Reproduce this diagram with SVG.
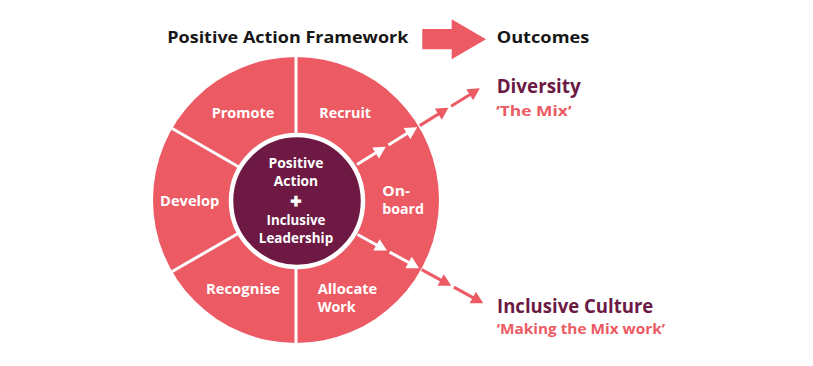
<svg xmlns="http://www.w3.org/2000/svg" width="813" height="366" viewBox="0 0 813 366">
  <style>
    .lbl { font-family: "Open Sans", Lato, "Liberation Sans", sans-serif; font-weight: 700; font-size: 14px; fill: #ffffff; }
    .ttl { font-family: "Open Sans", Lato, "Liberation Sans", sans-serif; font-weight: 700; font-size: 16.5px; fill: #161616; }
    .out { font-family: "Open Sans", Lato, "Liberation Sans", sans-serif; font-weight: 700; font-size: 20px; fill: #6B1A45; }
    .sub { font-family: "Open Sans", Lato, "Liberation Sans", sans-serif; font-weight: 700; font-size: 15px; fill: #EC5B63; }
    .div { stroke: #ffffff; stroke-width: 3; }
    .aw { stroke: #ffffff; stroke-width: 3; fill: none; marker-end: url(#hw); }
    .ap { stroke: #EC5B63; stroke-width: 3; fill: none; marker-end: url(#hp); }
  </style>
  <defs>
    <marker id="hw" markerUnits="userSpaceOnUse" markerWidth="13" markerHeight="13" viewBox="0 0 12 13" refX="8" refY="6.5" orient="auto">
      <path d="M0,0 L12,6.5 L0,13 Z" fill="#ffffff"/>
    </marker>
    <marker id="hp" markerUnits="userSpaceOnUse" markerWidth="13" markerHeight="13" viewBox="0 0 12 13" refX="8" refY="6.5" orient="auto">
      <path d="M0,0 L12,6.5 L0,13 Z" fill="#EC5B63"/>
    </marker>
  </defs>

  <g id="header">
    <text class="ttl" x="167.3" y="43.3" textLength="241" lengthAdjust="spacingAndGlyphs">Positive Action Framework</text>
    <polygon points="422.3,29 451.7,29 451.7,19.3 486,39.3 451.7,59.3 451.7,49.3 422.3,49.3" fill="#EC5B63"/>
    <text class="ttl" x="496.7" y="43.3" textLength="92.6" lengthAdjust="spacingAndGlyphs">Outcomes</text>
  </g>

  <g id="wheel">
    <circle cx="296" cy="200" r="143" fill="#EC5B63"/>
    <line class="div" x1="296" y1="57" x2="296" y2="140"/>
    <line class="div" x1="296" y1="260" x2="296" y2="343"/>
    <line class="div" x1="172.2" y1="128.5" x2="245" y2="170.5"/>
    <line class="div" x1="172.2" y1="271.5" x2="245" y2="229.5"/>
  </g>

  <g id="connectors">
    <line class="aw" x1="357" y1="164.5" x2="382.4" y2="148.75"/>
    <line class="aw" x1="388.37" y1="145.07" x2="413.77" y2="129.33"/>
    <line class="ap" x1="419.73" y1="125.64" x2="445.13" y2="109.9"/>
    <line class="ap" x1="451.1" y1="106.2" x2="476.5" y2="90.46"/>
    <line class="aw" x1="357.5" y1="234.5" x2="383.47" y2="248.7"/>
    <line class="aw" x1="389.61" y1="252.06" x2="415.58" y2="266.26"/>
    <line class="ap" x1="421.72" y1="269.62" x2="447.69" y2="283.82"/>
    <line class="ap" x1="453.83" y1="287.18" x2="479.8" y2="301.38"/>
  </g>

  <g id="center">
    <circle cx="297" cy="201" r="66" fill="#6D1944" stroke="#ffffff" stroke-width="4.5"/>
    <text class="lbl" x="296" y="168.3" text-anchor="middle" textLength="55" lengthAdjust="spacingAndGlyphs">Positive</text>
    <text class="lbl" x="296" y="185.7" text-anchor="middle" textLength="44.3" lengthAdjust="spacingAndGlyphs">Action</text>
    <text class="lbl" x="296" y="207.5" text-anchor="middle" style="font-size:19px;stroke:#ffffff;stroke-width:1.2">+</text>
    <text class="lbl" x="296" y="225" text-anchor="middle" textLength="59" lengthAdjust="spacingAndGlyphs">Inclusive</text>
    <text class="lbl" x="296" y="242.7" text-anchor="middle" textLength="74.3" lengthAdjust="spacingAndGlyphs">Leadership</text>
  </g>

  <g id="promote"><text class="lbl" x="243" y="117.7" text-anchor="middle" textLength="62.6" lengthAdjust="spacingAndGlyphs">Promote</text></g>
  <g id="recruit"><text class="lbl" x="345.2" y="117.7" text-anchor="middle" textLength="51.7" lengthAdjust="spacingAndGlyphs">Recruit</text></g>
  <g id="develop"><text class="lbl" x="189.7" y="205.7" text-anchor="middle" textLength="59.3" lengthAdjust="spacingAndGlyphs">Develop</text></g>
  <g id="onboard">
    <text class="lbl" x="382.3" y="195.7" textLength="27.7" lengthAdjust="spacingAndGlyphs">On-</text>
    <text class="lbl" x="382.3" y="214" textLength="41.7" lengthAdjust="spacingAndGlyphs">board</text>
  </g>
  <g id="recognise"><text class="lbl" x="243" y="294" text-anchor="middle" textLength="74" lengthAdjust="spacingAndGlyphs">Recognise</text></g>
  <g id="allocate">
    <text class="lbl" x="317.7" y="294.3" textLength="59.6" lengthAdjust="spacingAndGlyphs">Allocate</text>
    <text class="lbl" x="317.7" y="311.7" textLength="38" lengthAdjust="spacingAndGlyphs">Work</text>
  </g>

  <g id="diversity">
    <text class="out" x="496.7" y="92.8" textLength="84" lengthAdjust="spacingAndGlyphs">Diversity</text>
    <text class="sub" x="496" y="116" textLength="75.7" lengthAdjust="spacingAndGlyphs">‘The Mix’</text>
  </g>
  <g id="inclusive-culture">
    <text class="out" x="497" y="312.7" textLength="156.3" lengthAdjust="spacingAndGlyphs">Inclusive Culture</text>
    <text class="sub" x="496.7" y="334.3" textLength="168.3" lengthAdjust="spacingAndGlyphs">‘Making the Mix work’</text>
  </g>
</svg>
